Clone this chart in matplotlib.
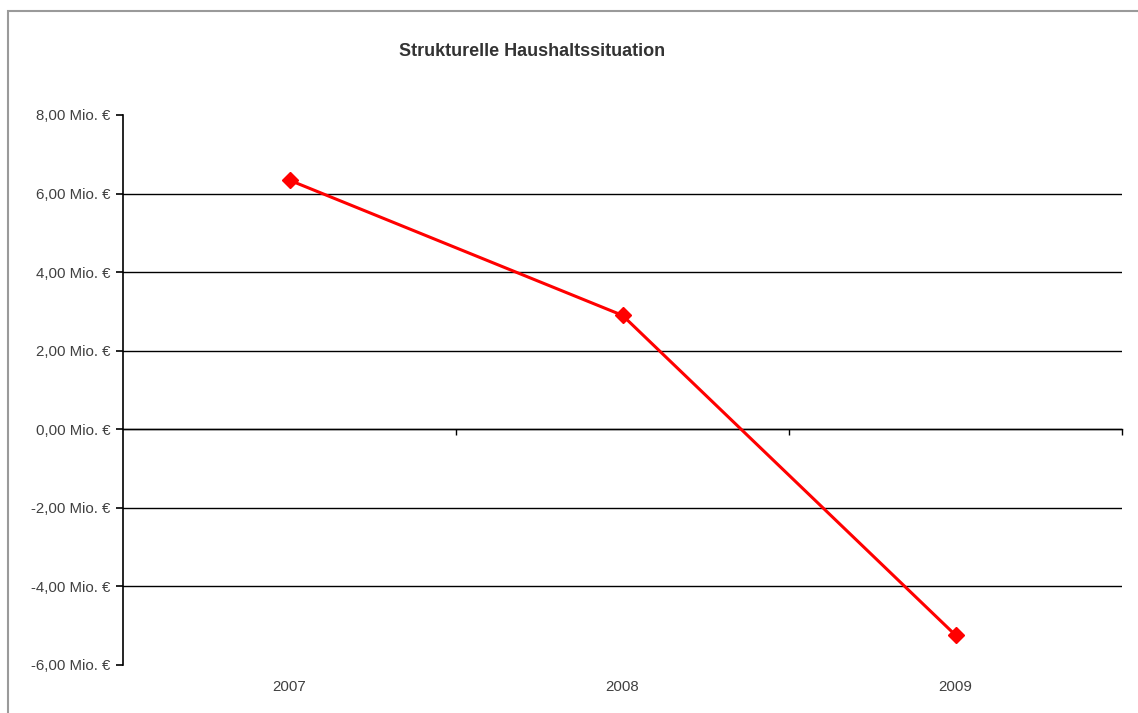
import matplotlib.pyplot as plt
from matplotlib.patches import Rectangle

# data
years = ["2007", "2008", "2009"]
values = [6.34, 2.90, -5.24]
y_ticks = [-6, -4, -2, 0, 2, 4, 6, 8]

plt.rcParams['font.family'] = ['Liberation Sans', 'DejaVu Sans']

W, H = 1138, 713
fig = plt.figure(figsize=(W / 100, H / 100), dpi=100)
fig.patch.set_facecolor('white')

# grey chart border (cropped on right and bottom)
fig.patches.append(Rectangle((8 / W, -0.05), 1.1, 1 - 11 / H + 0.05,
                             transform=fig.transFigure, fill=False,
                             edgecolor='#9a9a9a', lw=1.5))

ax = fig.add_axes([123 / W, (H - 665) / H, (1122 - 123) / W, (665 - 115) / H])
x = list(range(len(years)))
ax.plot(x, values, color='#ff0000', lw=2.2, marker='D', markersize=8,
        zorder=5)

ax.set_xlim(-0.5, len(years) - 0.5)
ax.set_ylim(-6, 8)

# y axis
ax.set_yticks(y_ticks)
ax.set_yticklabels([f"{v:.2f}".replace('.', ',') + " Mio. €" for v in y_ticks])
ax.tick_params(axis='y', direction='out', length=5, width=1.2, pad=4,
               labelsize=10.8, labelcolor='#404040', color='black')
ax.yaxis.grid(True, color='black', lw=1)
ax.set_axisbelow(True)
for t, v in zip(ax.yaxis.get_major_ticks(), y_ticks):
    if v in (8, -6):
        t.gridline.set_visible(False)

# x labels at bottom, axis line at zero
ax.set_xticks(x)
ax.set_xticklabels(years)
ax.tick_params(axis='x', length=0, pad=11, labelsize=10.8,
               labelcolor='#404040')
for s in ['top', 'right', 'bottom']:
    ax.spines[s].set_visible(False)
ax.spines['left'].set_linewidth(1.2)

sec = ax.secondary_xaxis(0, transform=ax.transData)
sec.set_xticks([i + 0.5 for i in x])
sec.set_xticklabels([])
sec.tick_params(direction='out', length=4, width=1, color='black')
sec.spines['bottom'].set_linewidth(1)
sec.spines['bottom'].set_color('black')

fig.text(532 / W, 1 - 52 / H, "Strukturelle Haushaltssituation",
         ha='center', va='center', fontsize=13, fontweight='bold',
         color='#333333')

fig.savefig('out.png', dpi=100)
